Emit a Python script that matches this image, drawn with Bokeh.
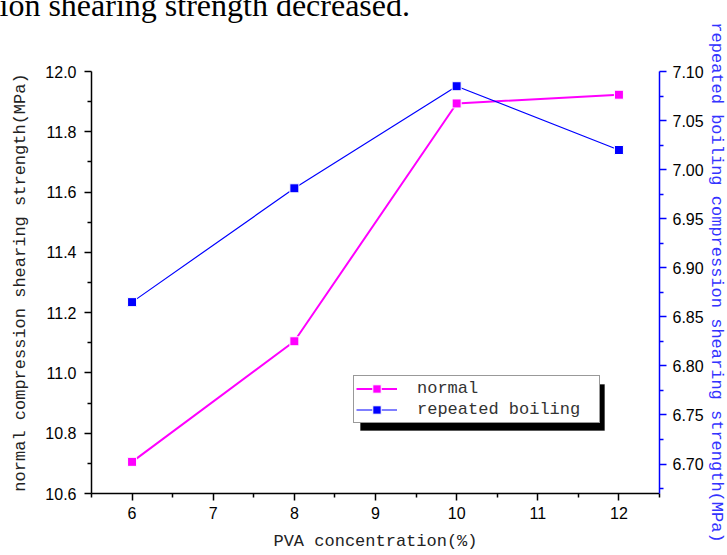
from bokeh.plotting import figure
from bokeh.models import (Range1d, LinearAxis, FixedTicker, NumeralTickFormatter,
                          Legend, LegendItem, BoxAnnotation, Title)
from bokeh.embed import file_html
from bokeh.resources import INLINE

# ---- data ----
pva = [6, 8, 10, 12]
normal = [10.705, 11.105, 11.894, 11.923]          # left axis (MPa)
repeated = [6.865, 6.981, 7.085, 7.020]            # right axis (MPa)

x_ticks = [6, 7, 8, 9, 10, 11, 12]
x_minor = [5.5, 6.5, 7.5, 8.5, 9.5, 10.5, 11.5, 12.5]
left_ticks = [10.6, 10.8, 11.0, 11.2, 11.4, 11.6, 11.8, 12.0]
left_minor = [10.7, 10.9, 11.1, 11.3, 11.5, 11.7, 11.9]
right_ticks = [6.70, 6.75, 6.80, 6.85, 6.90, 6.95, 7.00, 7.05, 7.10]
right_minor = [6.675, 6.725, 6.775, 6.825, 6.875, 6.925, 6.975, 7.025, 7.075]

top_text = "ion shearing strength decreased."
x_title = "PVA concentration(%)"
left_title = "normal compression shearing strength(MPa)"
right_title = "repeated boiling compression shearing strength(MPa)"

MONO = "Liberation Mono"
SANS = "Liberation Sans"
PINK = "#FF00FF"
BLUE = "#0000FF"

p = figure(frame_width=568, frame_height=422, output_backend="svg", toolbar_location=None,
           x_range=Range1d(5.5, 12.5), y_range=Range1d(10.6, 12.0),
           min_border_left=91, min_border_right=68, min_border_top=140, min_border_bottom=62,
           background_fill_color="white", border_fill_color="white")
# the page text above the chart is cut by the top edge of the page
p.styles = {"margin-top": "-69px"}
p.outline_line_color = None
p.grid.visible = False

p.title = Title(text=top_text, align="left", offset=-92, standoff=98,
                text_font="Liberation Serif", text_font_size="32px",
                text_font_style="normal", text_color="black")

p.extra_y_ranges = {"right": Range1d(6.67, 7.10)}

def style_axis(ax, color_line, ticks, minor, fmt):
    ax.ticker = FixedTicker(ticks=ticks, minor_ticks=minor)
    ax.formatter = NumeralTickFormatter(format=fmt)
    ax.axis_line_color = color_line
    ax.axis_line_width = 1.5
    ax.major_tick_line_color = color_line
    ax.minor_tick_line_color = color_line
    ax.major_tick_line_width = 1.5
    ax.minor_tick_line_width = 1.5
    ax.major_tick_in = 0
    ax.major_tick_out = 7
    ax.minor_tick_in = 0
    ax.minor_tick_out = 4
    ax.major_label_text_font = SANS
    ax.major_label_text_font_size = "16px"
    ax.major_label_text_color = "black"
    ax.axis_label_text_font = MONO
    ax.axis_label_text_font_size = "17px"
    ax.axis_label_text_font_style = "normal"

xa = p.xaxis[0]
style_axis(xa, "black", x_ticks, x_minor, "0")
xa.axis_label = x_title
xa.major_label_standoff = 6
xa.axis_label_standoff = 10
xa.axis_label_text_color = "#222222"

ya = p.yaxis[0]
style_axis(ya, "black", left_ticks, left_minor, "0.0")
ya.axis_label = left_title
ya.major_label_standoff = 8
ya.axis_label_standoff = 12
ya.axis_label_text_color = "#222222"

ra = LinearAxis(y_range_name="right")
style_axis(ra, BLUE, right_ticks, right_minor, "0.00")
ra.axis_label = right_title
ra.major_label_standoff = 6
ra.axis_label_standoff = 0
ra.axis_label_text_color = "#3333FF"
p.add_layout(ra, "right")

# ---- series ----
l1 = p.line(pva, normal, line_color=PINK, line_width=2)
s1 = p.scatter(pva, normal, marker="square", size=9, fill_color=PINK,
               line_color="white", line_width=1)
l2 = p.line(pva, repeated, y_range_name="right", line_color=BLUE, line_width=1.2)
s2 = p.scatter(pva, repeated, y_range_name="right", marker="square", size=9,
               fill_color=BLUE, line_color="white", line_width=1)

# ---- legend with drop shadow ----
p.add_layout(BoxAnnotation(left=269, right=513, bottom=63, top=109,
                           left_units="screen", right_units="screen",
                           bottom_units="screen", top_units="screen",
                           fill_color="black", fill_alpha=1, line_color="black"))

legend = Legend(items=[LegendItem(label="normal", renderers=[l1, s1]),
                       LegendItem(label="repeated boiling", renderers=[l2, s2])],
                location=(262, 70), background_fill_color="white", background_fill_alpha=1,
                border_line_color="#333333", border_line_width=1,
                label_text_color="#333333",
                label_text_font=MONO, label_text_font_size="17px",
                label_height=21, glyph_height=21, glyph_width=41,
                label_standoff=20, label_width=180, padding=2, spacing=0, margin=0)
p.add_layout(legend)

open("out.html", "w").write(file_html(p, INLINE))
